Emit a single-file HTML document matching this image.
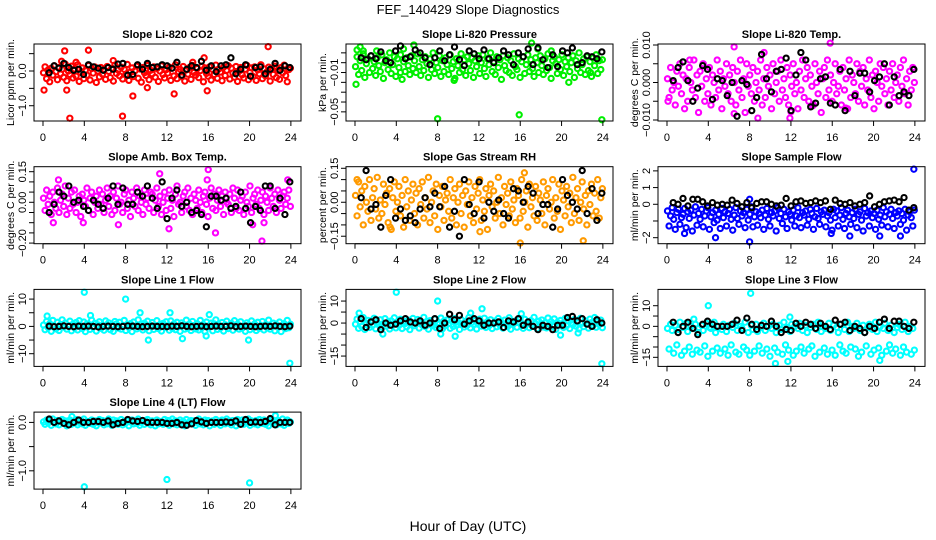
<!DOCTYPE html>
<html><head><meta charset="utf-8"><style>
html,body{margin:0;padding:0;background:#fff;}
svg{display:block;font-family:"Liberation Sans",sans-serif;}
</style></head><body>
<svg id="fig" width="936" height="540" viewBox="0 0 936 540">
<text x="468" y="14" text-anchor="middle" font-size="13">FEF_140429  Slope Diagnostics</text>
<text x="468" y="531" text-anchor="middle" font-size="14">Hour of Day (UTC)</text>
</svg>
<script>
const co2Vals=[-0.05,0.12,-0.22,0.03,-0.31,0.08,-0.12,0.15,-0.02,-0.25,0.1,-0.08,0.05,-0.18,0.2,-0.28,0.0,-0.1,0.14,-0.2,0.06,-0.15,0.18,-0.3,-0.04,0.09,-0.22,0.02,-0.12,0.16,-0.26,0.07,-0.06,0.12,-0.33,0.0,-0.17,0.1,-0.09,0.04,-0.24,0.13,-0.01,-0.19,0.08,-0.29,0.17,-0.07,0.03,-0.14,0.11,-0.23,0.05,-0.11,0.19,-0.27,-0.03,0.09,-0.16,0.01,0.14,-0.21,0.06,-0.32,0.1,-0.05,-0.13,0.16,-0.25,0.02,-0.08,0.12,-0.18,0.07,-0.3,0.0,0.15,-0.1,-0.2,0.04,-0.06,0.11,-0.27,0.08,-0.14,0.18,-0.22,-0.02,0.05,-0.17,0.13,-0.29,0.03,-0.09,0.1,-0.24,0.16,-0.04,-0.12,0.07,-0.19,0.01,0.14,-0.31,0.09,-0.07,-0.15,0.12,-0.26,0.04,-0.1,0.17,-0.21,0.06,-0.03,-0.28,0.11,-0.13,0.02,0.15,-0.23,0.08,-0.06,-0.18,0.13,-0.3,0.0,0.1,-0.11,-0.2,0.05,0.16,-0.25,-0.04,0.09,-0.16,0.12,-0.27,0.03,-0.08,0.18,-0.22,0.06,-0.14,-0.02,0.11,-0.29,0.07,-0.1,0.14,-0.19,0.01,-0.24,0.1,-0.05,0.17,-0.13,-0.31,0.04,0.08];
const co2Black=[-0.05,0.15,0.08,0.22,0.1,0.02,0.05,-0.1,0.18,0.12,0.08,0.02,0.1,0.05,0.2,0.22,-0.12,-0.1,0.18,0.05,0.22,0.1,0.12,0.18,0.15,0.08,0.25,-0.12,0.05,0.15,0.1,0.28,0.02,0.15,-0.02,0.15,0.18,0.38,-0.08,0.05,0.18,-0.15,0.1,0.12,-0.08,0.05,0.22,0.02,0.15,0.1];
const co2OutX=[0.1,2.1,2.3,2.6,4.4,7.7,8.7,12.7,15.9,21.8,1.8,6.8,14.5,15.6,3.2,10.1];
const co2OutY=[-0.55,0.58,-0.55,-1.36,0.6,-1.3,-0.72,-0.66,-0.57,0.7,0.28,0.3,0.25,0.38,0.25,-0.48];

const presVals=[-0.004,0.006,-0.012,0.002,-0.008,0.009,-0.015,-0.001,0.004,-0.01,0.007,-0.006,0.001,-0.013,0.005,-0.003,-0.009,0.008,-0.016,0.0,0.003,-0.007,0.01,-0.011,-0.002,0.006,-0.014,0.004,-0.005,0.008,-0.017,0.001,-0.009,0.005,-0.003,-0.012,0.007,-0.006,0.002,-0.01,0.009,-0.004,-0.013,0.003,-0.008,0.006,-0.001,-0.015,0.004,-0.007,0.01,-0.011,0.0,-0.005,0.007,-0.014,0.002,-0.009,0.005,-0.002,-0.012,0.008,-0.006,0.001,-0.016,0.004,-0.003,-0.01,0.009,-0.007,0.003,-0.013,0.006,-0.001,-0.008,0.005,-0.015,0.002,-0.004,0.007,-0.011,0.0,0.008,-0.006,-0.014,0.004,-0.002,0.01,-0.009,0.001,-0.012,0.006,-0.005,0.003,-0.017,0.007,-0.003,-0.008,0.005,-0.01,0.002,-0.013,0.009,-0.004,-0.007,0.004,-0.015,0.001,0.006,-0.011,-0.002,0.008,-0.009,0.003,-0.006,-0.014,0.005,0.0,-0.01,0.007,-0.003,-0.012,0.004,-0.008,0.009,-0.005,-0.016,0.002,0.006,-0.001,-0.011,0.003,-0.007,0.008,-0.013,0.001,-0.004,0.005,-0.009,0.0,0.007,-0.015,0.002,-0.006,0.01,-0.01,-0.002,0.004,-0.012,0.006,-0.008,0.001,-0.014,0.005,-0.003,0.008,-0.011,0.002,-0.007,0.003];
const presBlack=[0.005,0.003,0.007,0.004,0.011,0.002,0.0,0.012,0.017,0.004,0.006,0.013,0.01,0.005,-0.002,0.005,0.012,0.002,0.008,0.016,0.003,-0.003,0.012,0.009,0.004,0.013,0.004,0.0,0.005,0.012,0.008,-0.002,0.01,0.006,0.014,-0.002,0.015,0.003,-0.005,0.008,-0.004,0.012,0.01,0.015,-0.002,0.0,0.007,0.006,0.004,0.011];
const presOutX=[0.1,0.5,2.1,4.7,5.7,8.0,9.6,15.9,17.1,17.7,20.7,23.9,4.4,0.2,0.8,22.8,19.0];
const presOutY=[-0.022,0.016,0.012,0.014,0.018,-0.057,-0.018,-0.053,0.02,0.014,-0.02,-0.058,-0.01,0.013,0.012,-0.01,0.012];

const tempVals=[0.001,-0.004,0.004,-0.002,0.0,-0.006,0.003,-0.001,0.005,-0.003,0.002,-0.007,0.001,-0.005,0.004,0.0,-0.002,0.006,-0.004,0.002,-0.008,0.003,-0.001,0.005,-0.005,0.001,-0.003,0.004,-0.006,0.002,0.0,-0.004,0.006,-0.002,0.003,-0.007,0.001,-0.001,0.005,-0.003,0.002,-0.005,0.004,0.0,-0.006,0.003,-0.002,0.006,-0.004,0.001,-0.008,0.005,-0.001,0.002,-0.003,0.004,-0.005,0.0,0.003,-0.002,0.006,-0.006,0.001,-0.004,0.004,-0.001,0.002,-0.007,0.005,-0.003,0.0,0.003,-0.005,0.006,-0.002,0.001,-0.004,0.004,-0.006,0.002,-0.001,0.005,-0.003,0.0,-0.007,0.003,-0.002,0.006,-0.004,0.001,0.004,-0.005,0.002,-0.001,-0.006,0.005,0.0,-0.003,0.003,-0.008,0.001,0.004,-0.004,0.006,-0.002,0.002,-0.005,0.0,0.005,-0.003,-0.001,0.003,-0.006,0.004,-0.002,0.001,-0.007,0.006,-0.004,0.002,0.0,-0.003,0.005,-0.005,0.003,-0.001,0.004,-0.006,0.001,-0.002,0.006,-0.004,0.002,-0.007,0.003,0.0,-0.005,0.005,-0.001,0.004,-0.003,0.001,-0.006,0.003,-0.002,0.005,-0.004,0.0,0.002,-0.005,0.004,-0.001,0.006,-0.003,0.001,-0.006,0.003,-0.002,0.004,0.0];
const tempBlack=[0.0005,0.004,0.0055,0.0005,-0.005,-0.0015,0.0045,0.0035,-0.0045,0.001,0.0005,-0.0035,0.0,-0.009,0.0005,-0.0005,-0.0075,-0.004,0.0075,0.001,-0.0025,0.003,0.0035,0.0065,-0.0075,0.002,0.008,0.006,-0.0065,-0.0055,0.001,0.0015,-0.0055,-0.006,0.0035,-0.0075,0.003,-0.0035,0.0025,0.0025,-0.0025,0.0005,0.0015,0.005,-0.006,0.0015,-0.0035,-0.0025,-0.0035,0.0035];
const tempOutX=[0.1,2.2,6.5,9.4,8.8,11.9,15.8,12.0,6.5,17.3,14.1];
const tempOutY=[-0.005,0.006,0.0095,0.008,-0.0095,-0.0095,0.0105,-0.0078,-0.0083,-0.0068,-0.0062];

const ambVals=[0.02,-0.04,0.06,-0.01,0.03,-0.06,0.05,0.0,-0.03,0.07,-0.05,0.01,0.04,-0.02,0.08,-0.06,0.02,-0.03,0.05,-0.01,0.06,-0.05,0.0,0.03,-0.07,0.04,0.01,-0.02,0.07,-0.04,0.02,0.05,-0.06,0.0,0.03,-0.03,0.06,-0.01,0.04,-0.05,0.01,0.07,-0.02,0.03,-0.06,0.05,-0.04,0.02,0.08,-0.01,0.0,-0.05,0.04,0.06,-0.03,0.01,-0.07,0.05,0.02,-0.02,0.07,-0.04,0.03,0.0,-0.06,0.06,-0.01,0.02,-0.03,0.05,0.04,-0.05,0.01,0.07,-0.02,0.03,-0.06,0.0,0.05,-0.04,0.02,0.06,-0.03,0.01,-0.07,0.04,0.08,-0.01,0.0,-0.05,0.03,0.05,-0.02,0.07,-0.04,0.02,-0.06,0.04,0.01,-0.03,0.06,0.0,-0.05,0.03,0.05,-0.01,-0.07,0.02,0.07,-0.03,0.04,-0.04,0.01,0.06,-0.02,0.03,-0.06,0.05,0.0,-0.01,0.04,-0.05,0.07,0.02,-0.03,0.06,-0.04,0.01,0.03,-0.06,0.05,0.0,-0.02,0.08,-0.05,0.02,0.04,-0.01,0.06,-0.03,0.01,0.05,-0.06,0.03,0.0,-0.04,0.07,0.02,-0.02,0.04,-0.05,0.06,0.01,-0.03,0.03,0.05,-0.01,0.02,0.06,-0.02];
const ambBlack=[-0.05,-0.01,0.05,0.03,0.08,0.0,0.01,-0.02,-0.04,0.01,-0.01,-0.03,0.02,0.08,-0.01,0.07,-0.01,-0.01,0.05,0.03,0.08,0.02,-0.03,0.1,-0.08,0.02,0.06,-0.02,0.0,-0.05,-0.04,-0.06,-0.12,0.03,0.03,0.01,0.02,-0.03,-0.02,0.05,-0.03,-0.1,-0.02,-0.04,0.08,0.08,-0.03,0.02,-0.06,0.1];
const ambOutX=[1.5,1.0,3.9,7.3,11.3,12.2,16.0,16.7,21.2,23.7,20.3,21.4,15.9];
const ambOutY=[0.11,-0.1,-0.1,-0.11,0.14,-0.13,0.16,-0.15,-0.19,0.11,-0.11,-0.1,0.11];

const rhVals=[0.03,-0.06,0.09,-0.02,0.05,-0.1,0.07,0.0,-0.04,0.1,-0.08,0.02,0.06,-0.03,0.11,-0.07,0.01,-0.05,0.08,-0.01,0.04,-0.09,0.06,-0.12,0.02,0.09,-0.04,0.0,0.07,-0.06,0.03,-0.11,0.1,-0.02,0.05,-0.08,0.01,0.08,-0.05,0.04,-0.1,0.06,-0.01,0.09,-0.07,0.02,-0.03,0.11,-0.09,0.0,0.05,-0.06,0.08,-0.12,0.03,-0.02,0.07,-0.08,0.01,0.04,-0.04,0.1,-0.07,0.02,0.06,-0.1,0.0,0.08,-0.05,0.03,-0.11,0.05,-0.01,0.09,-0.06,0.02,-0.09,0.07,-0.03,0.04,0.1,-0.08,0.01,-0.04,0.06,-0.12,0.03,0.08,-0.02,0.05,-0.07,0.0,0.11,-0.05,0.02,-0.1,0.07,-0.01,0.04,-0.06,0.09,-0.03,0.01,-0.09,0.06,0.03,-0.07,0.1,-0.04,0.0,0.05,-0.11,0.08,-0.02,0.02,-0.06,0.07,-0.08,0.04,0.01,-0.05,0.09,-0.1,0.03,0.06,-0.03,0.0,0.1,-0.07,0.02,-0.04,0.08,-0.12,0.05,0.01,-0.06,0.07,-0.02,0.04,-0.09,0.11,-0.05,0.02,0.06,-0.08,0.0,0.09,-0.03,0.03,-0.1,0.05,-0.01,0.08,-0.06,0.04,-0.04,0.1,-0.07,0.02,0.06];
const rhBlack=[0.02,0.14,-0.03,-0.01,-0.11,0.03,0.1,-0.07,-0.03,-0.08,-0.06,-0.09,-0.03,0.02,-0.02,0.04,-0.02,0.07,-0.11,-0.04,-0.15,0.1,-0.01,-0.05,0.09,-0.07,0.0,-0.04,0.01,-0.05,-0.07,0.06,0.05,0.0,0.07,0.04,-0.05,-0.01,-0.01,-0.11,-0.03,0.1,0.03,0.0,-0.03,0.14,-0.05,0.06,-0.08,0.04];
const rhOutX=[16.4,16.0,22.1,12.1,3.4,0.2];
const rhOutY=[0.13,-0.18,-0.17,-0.13,-0.11,0.1];

const sampVals=[-0.4,-1.3,-0.7,-0.2,-0.9,-1.5,-0.5,-0.3,-1.2,-0.8,-0.6,-0.25,-1.4,-0.45,-0.85,-0.35,-1.6,-0.65,-0.15,-1.25,-0.55,-0.9,-0.3,-1.35,-0.7,-0.4,-0.2,-1.5,-0.75,-0.5,-1.1,-0.35,-0.95,-0.6,-1.45,-0.25,-0.8,-0.45,-1.3,-0.55,-0.3,-0.9,-1.55,-0.65,-0.2,-0.85,-1.2,-0.4,-0.7,-0.5,-1.4,-0.3,-0.95,-0.6,-0.15,-1.35,-0.75,-0.45,-1.25,-0.55,-0.8,-0.35,-1.5,-0.65,-0.25,-0.9,-1.3,-0.5,-0.7,-0.4,-1.6,-0.2,-0.85,-0.55,-1.15,-0.3,-0.75,-1.45,-0.45,-0.6,-0.95,-0.35,-1.3,-0.7,-0.2,-0.8,-1.4,-0.5,-0.65,-0.4,-1.25,-0.9,-0.3,-0.55,-1.5,-0.75,-0.25,-0.85,-1.2,-0.45,-0.6,-0.35,-1.35,-0.7,-0.5,-0.95,-1.55,-0.3,-0.8,-0.4,-1.3,-0.65,-0.2,-0.9,-1.45,-0.55,-0.35,-0.75,-1.2,-0.5,-0.85,-0.3,-1.4,-0.6,-0.45,-0.95,-1.6,-0.25,-0.7,-0.5,-1.3,-0.4,-0.8,-0.55,-1.5,-0.35,-0.9,-0.65,-1.25,-0.2,-0.75,-0.45,-1.35,-0.6,-0.3,-0.85,-1.45,-0.5,-0.7,-0.4,-1.2,-0.55,-0.95,-0.3,-1.55,-0.65,-0.45,-0.8,-1.3,-0.35];
const sampBlack=[0.1,0.0,0.35,-0.1,0.3,0.3,0.15,-0.1,0.1,-0.05,0.0,-0.05,0.25,0.05,-0.15,0.1,-0.2,0.05,0.15,0.15,0.0,-0.1,-0.05,0.35,-0.1,0.15,0.2,0.05,0.1,0.2,0.1,0.2,-0.3,0.25,0.05,0.0,0.1,-0.1,0.0,0.1,0.5,-0.15,0.0,0.15,0.2,0.25,0.15,0.4,-0.35,-0.2];
const sampOutX=[23.9,8.0,8.0,4.7,17.7,20.6,22.6,1.7,15.9];
const sampOutY=[2.1,-2.25,0.3,-2.0,-1.9,-1.9,-1.9,-1.75,-1.75];

const l1Vals=[0.5,-1.2,1.8,-0.4,1.0,-1.8,2.2,0.1,-0.9,1.5,-1.5,0.7,2.4,-0.2,1.2,-1.0,0.3,1.9,-1.6,0.8,-0.5,1.4,-1.3,2.1,0.0,-0.8,1.6,-1.9,0.9,0.4,-1.1,2.3,-0.3,1.1,-1.7,0.6,1.7,-0.7,0.2,-1.4,2.0,-0.1,1.3,-1.2,0.5,-1.8,1.8,0.9,-0.6,1.5,-1.0,0.3,2.2,-1.5,0.7,-0.4,1.0,-1.9,1.6,0.1,-0.9,2.4,-0.2,0.8,-1.3,1.2,-0.5,1.9,-1.6,0.4,1.4,-1.1,0.0,2.1,-0.8,0.6,-1.7,1.1,-0.3,1.7,0.2,-1.4,2.0,-0.7,0.9,-1.2,1.5,-0.1,-1.8,1.3,0.5,-1.0,2.3,-0.6,0.8,-1.5,1.8,0.3,-0.9,1.0,-1.3,2.2,-0.4,0.7,-1.9,1.6,0.1,-0.2,1.2,-1.6,0.9,2.4,-1.1,0.4,-0.5,1.4,-1.7,0.6,1.9,-0.8,0.0,1.1,-1.4,2.1,-0.3,0.8,-1.0,1.7,-0.6,0.2,-1.8,1.3,0.5,-1.2,2.0,-0.1,0.9,-1.5,1.5,-0.7,0.3,1.8,-1.3,0.6,-0.4,2.3,-1.0,0.1,1.2,-1.6,0.7,-0.2,1.6,-1.9,0.4,1.0,-0.8,2.2,-0.5,0.8];
const l1Black=[0.1,-0.1,0.0,0.2,0.0,-0.1,0.1,0.0,0.1,0.0,-0.2,0.0,0.1,0.0,-0.1,0.0,0.2,0.1,0.0,-0.1,0.0,0.1,0.0,0.0,-0.1,0.1,0.0,0.2,0.0,-0.1,0.0,0.1,-0.1,0.0,0.1,0.0,0.0,0.2,-0.1,0.0,0.1,0.0,-0.1,0.0,0.1,0.0,0.2,0.0,-0.1,0.1];
const l1OutX=[4.0,8.0,23.9,9.4,10.2,13.5,19.9,12.3,15.8,0.4,4.6,16.1];
const l1OutY=[12.5,10,-13.5,5,-5,-4.5,-5,5,-3.5,3.8,4,4.3];

const l2Vals=[-0.5,1.8,-2.4,0.6,-1.5,2.5,-2.9,-0.1,1.2,-2.0,0.9,-1.1,2.2,-2.6,0.3,-0.8,1.5,-1.9,-0.3,2.0,-1.4,0.5,-2.7,1.0,-0.6,2.4,-2.2,0.1,-1.0,1.7,-2.5,0.8,-0.2,-1.7,1.3,-3.0,0.4,2.1,-1.2,-0.4,1.6,-2.3,0.0,-0.9,2.6,-1.6,0.7,-2.8,1.1,-0.7,-1.3,1.9,-2.1,0.2,-0.5,2.3,-2.6,0.9,-1.1,1.4,-0.2,-2.4,1.0,-1.5,2.0,-0.8,0.5,-2.9,1.6,-0.3,-1.8,0.8,-1.0,2.5,-2.2,0.3,-0.6,1.2,-2.7,0.0,1.8,-1.4,-0.4,2.2,-2.0,0.6,-1.2,1.5,-2.5,-0.1,0.9,-1.7,2.1,-0.9,0.4,-2.3,1.3,-0.5,-1.6,2.4,-2.8,0.7,-0.2,1.0,-1.9,0.2,2.0,-1.1,-2.4,1.7,-0.7,0.5,-2.1,1.1,-1.3,2.6,-0.4,-2.6,0.8,-0.9,1.4,-1.8,0.1,-2.2,2.3,-0.6,0.6,-1.5,1.9,-2.9,0.3,-1.0,1.2,-0.3,-2.0,2.1,-1.2,0.9,-2.5,0.0,-0.8,1.6,-1.4,0.4,-2.7,2.2,-0.1,-1.6,1.0,-0.5,-2.3,1.8,0.2,-1.1,2.5,-1.9,0.7,-0.7,1.3,-2.1];
const l2Black=[2,-2,0.5,1.5,-3,0,-1,-0.5,1,2,0.5,0,1,-1,0,2,-2.5,0,4,1.5,3.5,-0.5,1,2,1,-1,0,0,0.5,-2,1,0.5,2,-1,0.5,-1.5,-3,-1,-1.5,-3,-1,-1,2.5,3,1,2,-0.5,-1.5,1.5,0];
const l2OutX=[4.0,8.0,23.9,12.3,9.7,2.7,8.3,19.9,0.4,11.2,16.1,21.6];
const l2OutY=[14,10,-18.5,6.5,-6,-5,-5,-5.5,4.5,4.5,4.2,-4.5];

const l3Vals=[-1,-11,1,-2,-13,0.5,-9,-1.5,2,-14,-0.5,-12,1.5,-2.5,-10,0,-13.5,-1,1,-11.5,-3,-12.5,0.5,-2,-9.5,1.5,-14.5,-0.5,-1,-12,2,-3,-10.5,0,-13,-1.5,1,-11,-2.5,-14,0.5,-9,-0.5,1.5,-12.5,-2,-13.5,0,-1,-10,2,-11.5,-3,-14,0.5,-1.5,-12,1,-2.5,-9.5,-0.5,-13,1.5,-2,-11,0,-14.5,-1,1,-10.5,-3,-12.5,0.5,-1.5,-13.5,2,-9,-0.5,-11.5,-2.5,1,-14,0,-12,-1,1.5,-10,-2,-13,0.5,-3,-11,-0.5,-9.5,1,-14.5,-1.5,2,-12.5,-2.5,0,-10.5,-1,-13.5,1.5,-2,-11.5,0.5,-14,-0.5,-3,-9,1,-12,-1.5,-13,2,-2.5,-10,0,-1,-11,1.5,-14.5,-2,-12.5,0.5,-3,-9.5,-0.5,1,-13.5,-1.5,-11.5,2,-2.5,-10.5,0,-14,-1,1.5,-12,-2,-9,0.5,-13,-3,-11,-0.5,1,-14,-1.5,-10,2,-12.5,-2.5,0,-13.5,-1,-11.5];
const l3Black=[2,-3,0,2,-1,-4,1,2.5,1,0,0,0,1,3,-2,4,1,-1.5,0.5,0,2.5,0,-3,-1.5,-2,1.5,0,2,1,-1,1.5,0,-1.5,3,1,2,-2,0,-1,-3,0,-1,2,3.5,-1,2.5,2.5,0,-1,2];
const l3OutX=[8.1,4.0,10.5,11.7,20.6,11.9,2.6];
const l3OutY=[16,10,-18,-17,-16.5,4.5,3.5];

const l4Vals=[0.01,-0.04,0.05,-0.01,0.03,-0.06,0.07,0.0,-0.03,0.04,-0.05,0.02,0.06,-0.02,0.03,-0.07,0.01,0.05,-0.04,0.02,-0.01,0.06,-0.05,0.0,0.04,-0.03,0.07,-0.06,0.02,0.01,-0.02,0.05,-0.04,0.03,-0.07,0.0,0.06,-0.01,0.04,-0.05,0.02,-0.03,0.07,0.01,-0.06,0.05,-0.02,0.03,-0.04,0.0,0.06,-0.05,0.02,-0.01,0.04,-0.07,0.01,0.05,-0.03,0.03,-0.02,0.07,-0.06,0.0,0.04,-0.04,0.02,0.06,-0.01,-0.05,0.03,0.01,-0.07,0.05,-0.03,0.02,0.0,-0.04,0.06,-0.02,0.04,-0.06,0.01,0.07,-0.03,0.03,-0.05,0.0,0.05,-0.01,0.02,-0.07,0.06,-0.04,0.01,0.04,-0.02,0.03,-0.06,0.0,0.07,-0.03,0.02,-0.05,0.05,-0.01,0.04,-0.07,0.01,0.03,-0.04,0.06,-0.02,0.0,-0.06,0.05,0.02,-0.03,0.07,-0.01,0.03,-0.05,0.04,0.01,-0.07,0.06,-0.02,0.0,0.05,-0.04,0.02,-0.01,0.07,-0.06,0.03,0.01,-0.03,0.04,-0.05,0.06,0.0,-0.02,0.05,-0.04,0.03,-0.07,0.01,0.06,-0.01,0.02,-0.05,0.04,0.0,-0.03,0.07,-0.06,0.02,0.05,-0.02,0.01];
const l4Black=[0.07,0.0,0.03,-0.02,-0.05,0.0,0.05,0.0,0.0,0.02,0.02,0.0,0.03,-0.05,-0.02,0.0,0.06,0.03,0.02,0.04,0.0,0.0,0.0,0.0,-0.02,-0.02,0.0,-0.05,-0.06,-0.03,0.04,0.01,-0.02,0.0,0.0,0.0,0.01,0.0,0.03,-0.04,0.06,0.0,0.01,0.0,0.02,0.08,-0.05,0.0,0.0,0.0];
const l4OutX=[4.0,12.0,20.0,22.5,2.8];
const l4OutY=[-1.33,-1.18,-1.25,0.14,0.12];

const xTickVals=[0,4,8,12,16,20,24];

const panels=[
 {key:'li820-co2',title:'Slope Li-820 CO2',ylab:'Licor ppm per min.',col:0,row:0,ymin:-1.44,ymax:0.778,ticks:[-1.0,-0.5,0,0.5],labs:{'-1':'\u22121.0','0':'0.0'},color:'#ff0000',vals:co2Vals,blk:co2Black,ox:co2OutX,oy:co2OutY},
 {key:'li820-pressure',title:'Slope Li-820 Pressure',ylab:'kPa per min.',col:1,row:0,ymin:-0.0593,ymax:0.019,ticks:[0.01,0,-0.01,-0.02,-0.03,-0.04,-0.05],labs:{'-0.01':'\u22120.01','-0.05':'\u22120.05'},color:'#00ee00',vals:presVals,blk:presBlack,ox:presOutX,oy:presOutY},
 {key:'li820-temp',title:'Slope Li-820 Temp.',ylab:'degrees C per min.',col:2,row:0,ymin:-0.01027,ymax:0.01027,ticks:[-0.01,-0.005,0,0.005,0.01],labs:{'-0.01':'\u22120.010','0':'0.000','0.01':'0.010'},color:'#ff00ff',vals:tempVals,blk:tempBlack,ox:tempOutX,oy:tempOutY},
 {key:'amb-box-temp',title:'Slope Amb. Box Temp.',ylab:'degrees C per min.',col:0,row:1,ymin:-0.203,ymax:0.1745,ticks:[-0.2,-0.15,-0.1,-0.05,0,0.05,0.1,0.15],labs:{'-0.2':'\u22120.20','0':'0.00','0.15':'0.15'},color:'#ff00ff',vals:ambVals,blk:ambBlack,ox:ambOutX,oy:ambOutY},
 {key:'gas-stream-rh',title:'Slope Gas Stream RH',ylab:'percent per min.',col:1,row:1,ymin:-0.183,ymax:0.157,ticks:[-0.15,-0.1,-0.05,0,0.05,0.1,0.15],labs:{'-0.15':'\u22120.15','0':'0.00','0.15':'0.15'},color:'#ff9a00',vals:rhVals,blk:rhBlack,ox:rhOutX,oy:rhOutY},
 {key:'sample-flow',title:'Slope Sample Flow',ylab:'ml/min per min.',col:2,row:1,ymin:-2.36,ymax:2.25,ticks:[-2,-1,0,1,2],labs:{'-2':'\u22122','0':'0','1':'1','2':'2'},color:'#0000ff',vals:sampVals,blk:sampBlack,ox:sampOutX,oy:sampOutY},
 {key:'line1-flow',title:'Slope Line 1 Flow',ylab:'ml/min per min.',col:0,row:2,ymin:-14.65,ymax:13.55,ticks:[-10,-5,0,5,10],labs:{'-10':'\u221210','0':'0','10':'10'},color:'#00ffff',vals:l1Vals,blk:l1Black,ox:l1OutX,oy:l1OutY},
 {key:'line2-flow',title:'Slope Line 2 Flow',ylab:'ml/min per min.',col:1,row:2,ymin:-19.7,ymax:15.3,ticks:[-15,-10,-5,0,5,10],labs:{'-15':'\u221215','0':'0','10':'10'},color:'#00ffff',vals:l2Vals,blk:l2Black,ox:l2OutX,oy:l2OutY},
 {key:'line3-flow',title:'Slope Line 3 Flow',ylab:'ml/min per min.',col:2,row:2,ymin:-19.4,ymax:17.9,ticks:[-15,-10,-5,0,5,10],labs:{'-15':'\u221215','0':'0','10':'10'},color:'#00ffff',vals:l3Vals,blk:l3Black,ox:l3OutX,oy:l3OutY},
 {key:'line4-flow',title:'Slope Line 4 (LT) Flow',ylab:'ml/min per min.',col:0,row:3,ymin:-1.378,ymax:0.213,ticks:[-1.0,-0.5,0],labs:{'-1':'\u22121.0','0':'0.0'},color:'#00ffff',vals:l4Vals,blk:l4Black,ox:l4OutX,oy:l4OutY}
];

const NS='http://www.w3.org/2000/svg';
const svg=document.getElementById('fig');
const XMIN=-0.87,XMAX=24.98,BW=267,BH=77;
const R='2.6',SW='2.1';
function mk(tag,attrs,parent){const e=document.createElementNS(NS,tag);for(const k in attrs)e.setAttribute(k,attrs[k]);(parent||svg).appendChild(e);return e;}

panels.forEach(p=>{
  const L=34+p.col*312, T=44+p.row*122.7;
  const g=mk('g',{});
  
  
  const xs=v=>L+(v-XMIN)/(XMAX-XMIN)*BW;
  const ys=v=>T+(p.ymax-v)/(p.ymax-p.ymin)*BH;
  const pts=mk('g',{fill:'none','stroke-width':SW},g);
  
  
  const n=p.vals.length;
  p.vals.forEach((v,i)=>{
    const t=0.05+i*(23.9/(n-1));
    const c=mk('circle',{cx:xs(t).toFixed(2),cy:ys(v).toFixed(2),r:R,stroke:p.color},pts);
    
    
  });
  p.ox.forEach((t,i)=>{
    const c=mk('circle',{cx:xs(t).toFixed(2),cy:ys(p.oy[i]).toFixed(2),r:R,stroke:p.color},pts);
    
    
  });
  const nb=p.blk.length;
  p.blk.forEach((v,i)=>{
    const t=0.6+i*(23.3/(nb-1));
    const c=mk('circle',{cx:xs(t).toFixed(2),cy:ys(v).toFixed(2),r:R,stroke:'#000'},pts);
    
    
  });
  const box=mk('rect',{x:L,y:T,width:BW,height:BH,fill:'none',stroke:'#000','stroke-width':'1'},g);
  
  
  const ttl=mk('text',{x:L+BW/2,y:T-6,'text-anchor':'middle','font-size':'11','font-weight':'bold'},g);
  ttl.textContent=p.title;
  
  
  const B=T+BH;
  const xa=mk('line',{x1:xs(0),x2:xs(24),y1:B,y2:B,stroke:'#000'},g);
  
  
  xTickVals.forEach(v=>{
    const tk=mk('line',{x1:xs(v),x2:xs(v),y1:B,y2:B+5,stroke:'#000'},g);
    
    
    const tl=mk('text',{x:xs(v),y:B+20,'text-anchor':'middle','font-size':'11'},g);
    tl.textContent=String(v);
    
    
  });
  const tmin=Math.min(...p.ticks),tmax=Math.max(...p.ticks);
  const ya=mk('line',{x1:L,x2:L,y1:ys(tmin),y2:ys(tmax),stroke:'#000'},g);
  
  
  p.ticks.forEach(v=>{
    const y=ys(v);
    const tk=mk('line',{x1:L-5,x2:L,y1:y,y2:y,stroke:'#000'},g);
    
    
    const key=String(v);
    if(p.labs[key]!==undefined){
      const tl=mk('text',{x:0,y:0,'text-anchor':'middle','font-size':'11',transform:'translate('+(L-8)+','+y+') rotate(-90)'},g);
      tl.textContent=p.labs[key];
      
      
    }
  });
  const yl=mk('text',{x:0,y:0,'text-anchor':'middle','font-size':'10.5',transform:'translate('+(L-20)+','+(T+BH/2)+') rotate(-90)'},g);
  yl.textContent=p.ylab;
  
  
});
</script>
</body></html>
